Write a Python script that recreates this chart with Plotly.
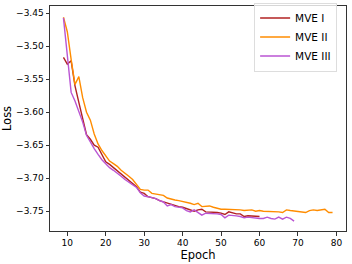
import plotly.graph_objects as go

epochs_1 = list(range(9, 61))
loss_1 = [-3.517, -3.527, -3.522, -3.560, -3.585, -3.610, -3.634, -3.641, -3.650, -3.653,
          -3.665, -3.675, -3.679, -3.684, -3.688, -3.693, -3.699, -3.704, -3.708, -3.713,
          -3.721, -3.723, -3.728, -3.729, -3.731, -3.734, -3.736, -3.737, -3.739, -3.741,
          -3.743, -3.744, -3.746, -3.748, -3.750, -3.748, -3.747, -3.751, -3.751, -3.752,
          -3.752, -3.753, -3.755, -3.751, -3.753, -3.754, -3.754, -3.758, -3.757, -3.757,
          -3.757, -3.758]

epochs_2 = list(range(9, 80))
loss_2 = [-3.456, -3.478, -3.520, -3.558, -3.546, -3.578, -3.600, -3.612, -3.633, -3.648,
          -3.658, -3.667, -3.674, -3.678, -3.682, -3.688, -3.692, -3.697, -3.702, -3.710,
          -3.717, -3.718, -3.718, -3.723, -3.724, -3.724, -3.726, -3.730, -3.732, -3.733,
          -3.734, -3.735, -3.737, -3.738, -3.740, -3.738, -3.743, -3.743, -3.742, -3.744,
          -3.746, -3.747, -3.747, -3.747, -3.748, -3.748, -3.748, -3.749, -3.748, -3.748,
          -3.750, -3.749, -3.750, -3.750, -3.750, -3.750, -3.751, -3.752, -3.748, -3.749,
          -3.750, -3.750, -3.751, -3.752, -3.749, -3.748, -3.749, -3.748, -3.747, -3.752,
          -3.752]

epochs_3 = list(range(9, 70))
loss_3 = [-3.457, -3.515, -3.570, -3.583, -3.598, -3.615, -3.635, -3.646, -3.655, -3.664,
          -3.672, -3.678, -3.684, -3.688, -3.692, -3.697, -3.702, -3.706, -3.710, -3.714,
          -3.722, -3.727, -3.728, -3.729, -3.731, -3.734, -3.736, -3.742, -3.740, -3.743,
          -3.744, -3.745, -3.749, -3.751, -3.748, -3.752, -3.756, -3.753, -3.753, -3.754,
          -3.754, -3.755, -3.760, -3.756, -3.756, -3.757, -3.758, -3.760, -3.759, -3.760,
          -3.760, -3.761, -3.761, -3.759, -3.761, -3.762, -3.759, -3.762, -3.759, -3.761,
          -3.765]

names = ["MVE I", "MVE II", "MVE III"]
colors = ["#b22222", "#ff8c00", "#ba55d3"]

x_ticks = [10, 20, 30, 40, 50, 60, 70, 80]
y_ticks = [-3.45, -3.50, -3.55, -3.60, -3.65, -3.70, -3.75]

fig = go.Figure()
for xs, ys, n, c in zip([epochs_1, epochs_2, epochs_3], [loss_1, loss_2, loss_3], names, colors):
    fig.add_trace(go.Scatter(x=xs, y=ys, mode="lines", name=n,
                             line=dict(color=c, width=1.4)))

axis_common = dict(showgrid=False, zeroline=False, showline=True, linecolor="#333333",
                   linewidth=1, mirror=True, ticks="outside", ticklen=3.5, tickwidth=0.8,
                   tickcolor="#333333", tickfont=dict(family="DejaVu Sans", size=9, color="black"))

fig.update_layout(
    width=352, height=264,
    margin=dict(l=50, r=6, t=6, b=33, autoexpand=False),
    paper_bgcolor="white", plot_bgcolor="white",
    font=dict(family="DejaVu Sans", color="black"),
    xaxis=dict(range=[5.5, 82.5], tickvals=x_ticks, ticktext=[str(v) for v in x_ticks],
               title=dict(text="Epoch", font=dict(size=11.5), standoff=0), **axis_common),
    yaxis=dict(range=[-3.780, -3.439], tickvals=y_ticks,
               ticktext=["\u2212%.2f" % abs(v) for v in y_ticks],
               title=dict(text="Loss", font=dict(size=11.5), standoff=4), **axis_common),
    legend=dict(x=0.97, y=0.862, xanchor="right", yanchor="middle",
                bgcolor="rgba(255,255,255,0.8)", bordercolor="#dddddd", borderwidth=1,
                font=dict(size=10.5), tracegroupgap=0, itemwidth=30),
    showlegend=True,
)

fig.write_html("out.html", config={"displayModeBar": False},
               post_script="document.body.style.margin='0';document.body.style.padding='0';document.body.style.overflow='hidden';")
